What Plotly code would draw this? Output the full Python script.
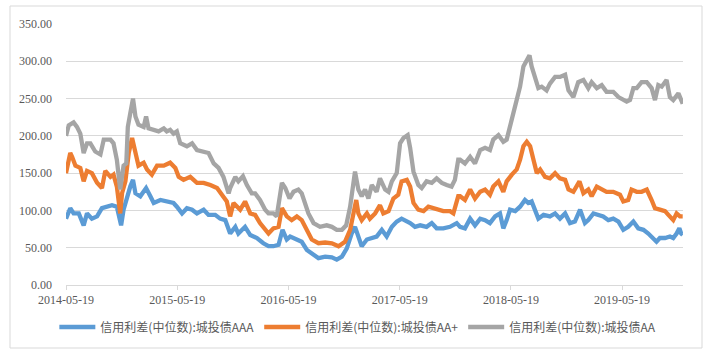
import pandas as pd
import plotly.graph_objects as go

START = "2014-05-19"

# AAA: days since 2014-05-19 and spread values
aaa_days = [0, 14, 25, 42, 58, 69, 85, 102, 118, 135, 151, 167, 181, 189, 200, 211, 220, 228, 244, 263,
            277, 288, 310, 331, 353, 364, 381, 397, 414, 430, 452, 468, 490, 506, 523, 539, 556, 566, 588,
            605, 627, 648, 665, 681, 698, 711, 725, 736, 758, 774, 791, 813, 829, 851, 873, 889, 906, 922,
            938, 949, 960, 971, 988, 1004, 1020, 1037, 1053, 1070, 1086, 1102, 1113, 1130, 1146, 1163, 1184,
            1201, 1217, 1239, 1261, 1283, 1294, 1310, 1327, 1343, 1360, 1376, 1392, 1409, 1425, 1436, 1447,
            1458, 1475, 1491, 1507, 1518, 1529, 1540, 1551, 1568, 1589, 1606, 1622, 1639, 1655, 1671, 1688,
            1704, 1715, 1732, 1748, 1764, 1781, 1797, 1814, 1830, 1846, 1863, 1879, 1896, 1912, 1929, 1939,
            1950, 1967, 1983, 1994, 2005, 2014, 2020, 2025]
aaa_vals = [89, 103, 96, 96, 80, 96, 89, 92, 103, 105, 107, 105, 80, 101, 119, 132, 141, 123, 119, 130,
            119, 110, 114, 112, 110, 105, 96, 103, 101, 96, 101, 94, 94, 89, 87, 69, 78, 69, 78,
            67, 63, 56, 52, 52, 54, 74, 61, 65, 61, 58, 47, 41, 36, 38, 37, 34, 38, 49,
            69, 78, 63, 52, 61, 63, 65, 74, 65, 78, 85, 89, 87, 83, 78, 80, 78,
            83, 76, 76, 78, 83, 78, 76, 89, 80, 89, 87, 83, 92, 96, 76, 87,
            101, 99, 105, 114, 110, 112, 101, 89, 94, 92, 96, 89, 96, 83, 85, 101,
            83, 87, 96, 94, 92, 87, 89, 85, 74, 78, 85, 76, 74, 69, 63, 58,
            63, 63, 65, 63, 69, 76, 69, 67]

# AA+
aap_days = [0, 14, 20, 31, 47, 58, 69, 85, 102, 118, 129, 146, 156, 167, 178, 184, 195, 206, 217, 228,
            238, 255, 266, 282, 299, 321, 342, 359, 370, 386, 408, 430, 452, 474, 496, 512, 528, 539, 550,
            572, 588, 605, 621, 637, 654, 665, 681, 698, 709, 725, 741, 758, 774, 791, 807, 829, 851, 873,
            895, 916, 933, 944, 953, 960, 971, 988, 998, 1015, 1031, 1042, 1059, 1075, 1091, 1102, 1119,
            1130, 1141, 1157, 1174, 1190, 1206, 1223, 1239, 1261, 1272, 1288, 1294, 1310, 1327, 1343, 1360,
            1376, 1392, 1403, 1420, 1436, 1447, 1464, 1480, 1491, 1502, 1513, 1524, 1535, 1546, 1557, 1573,
            1589, 1606, 1622, 1639, 1650, 1666, 1686, 1699, 1715, 1726, 1743, 1759, 1775, 1797, 1819, 1830,
            1846, 1857, 1874, 1890, 1907, 1923, 1934, 1950, 1967, 1978, 1994, 2005, 2016, 2025]
aap_vals = [150, 177, 172, 160, 157, 139, 153, 150, 137, 130, 153, 145, 148, 132, 96, 123, 139, 177, 197, 177,
            160, 164, 155, 148, 160, 160, 164, 157, 145, 141, 145, 137, 137, 134, 130, 121, 112, 92, 110,
            101, 112, 96, 94, 83, 74, 69, 76, 78, 103, 92, 87, 92, 87, 72, 61, 56, 57, 56,
            52, 58, 74, 96, 114, 96, 87, 96, 89, 96, 107, 96, 99, 116, 121, 139, 141,
            132, 110, 101, 99, 105, 103, 101, 99, 99, 96, 119, 119, 114, 128, 116, 125,
            128, 121, 132, 139, 125, 139, 148, 155, 168, 186, 192, 186, 168, 150, 155, 145,
            143, 150, 143, 141, 128, 125, 139, 123, 128, 119, 132, 128, 125, 125, 121, 112,
            114, 128, 125, 125, 128, 114, 103, 101, 99, 94, 87, 96, 92, 92]

# AA
aa_days = [0, 9, 25, 36, 47, 58, 69, 80, 96, 113, 124, 146, 156, 167, 178, 189, 198, 203, 211, 220,
           228, 238, 255, 263, 271, 288, 304, 321, 331, 342, 353, 364, 375, 397, 414, 430, 452, 468, 485,
           501, 517, 534, 539, 556, 566, 581, 594, 610, 621, 637, 654, 665, 681, 692, 709, 720, 734, 747,
           763, 774, 796, 813, 834, 856, 873, 889, 906, 920, 933, 944, 949, 960, 971, 982, 993, 1004, 1020,
           1031, 1048, 1059, 1070, 1086, 1097, 1108, 1122, 1130, 1141, 1157, 1168, 1184, 1201, 1217, 1234,
           1250, 1266, 1277, 1288, 1294, 1310, 1327, 1343, 1360, 1376, 1392, 1403, 1420, 1436, 1447, 1458,
           1469, 1480, 1491, 1502, 1513, 1522, 1529, 1540, 1551, 1562, 1578, 1589, 1606, 1622, 1639, 1650,
           1666, 1682, 1699, 1715, 1726, 1743, 1759, 1775, 1797, 1814, 1830, 1841, 1852, 1863, 1874, 1890,
           1907, 1923, 1934, 1945, 1956, 1972, 1983, 1994, 2011, 2018, 2025]
aa_vals = [200, 214, 218, 212, 203, 177, 190, 190, 179, 175, 195, 195, 190, 168, 128, 160, 163, 212, 230, 250,
           226, 215, 212, 226, 210, 208, 206, 210, 206, 208, 203, 206, 190, 186, 190, 181, 179, 177, 163,
           157, 145, 123, 130, 145, 139, 146, 134, 123, 123, 114, 101, 96, 96, 92, 137, 130, 116, 125,
           128, 123, 96, 83, 78, 80, 78, 74, 74, 80, 105, 132, 152, 128, 119, 128, 116, 134, 125,
           143, 128, 125, 139, 150, 190, 197, 201, 184, 152, 134, 130, 139, 137, 143, 137,
           134, 132, 141, 168, 168, 163, 172, 163, 181, 184, 181, 195, 201, 192, 195, 212,
           230, 248, 266, 293, 302, 308, 293, 277, 264, 266, 261, 270, 279, 279, 282, 261,
           252, 272, 275, 264, 272, 264, 268, 259, 259, 252, 248, 246, 248, 264, 264, 272,
           272, 264, 248, 268, 266, 275, 252, 248, 257, 248, 243]

names = ["信用利差(中位数):城投债AAA", "信用利差(中位数):城投债AA+", "信用利差(中位数):城投债AA"]
colors = ["#5B9BD5", "#ED7D31", "#A5A5A5"]
tick_dates = ["2014-05-19", "2015-05-19", "2016-05-19", "2017-05-19", "2018-05-19", "2019-05-19"]
y_ticks = [0, 50, 100, 150, 200, 250, 300, 350]


def to_dates(days):
    return pd.Timestamp(START) + pd.to_timedelta(days, unit="D")


fig = go.Figure()
for d, v, n, c in [(aaa_days, aaa_vals, names[0], colors[0]),
                   (aap_days, aap_vals, names[1], colors[1]),
                   (aa_days, aa_vals, names[2], colors[2])]:
    fig.add_trace(go.Scatter(x=to_dates(d), y=v, mode="lines", name=n,
                             line=dict(color=c, width=4.3)))

L, R, T, B = 66, 29, 24, 71
W, H = 712, 356
pw, ph = W - L - R, H - T - B

fig.update_layout(
    width=W, height=H,
    margin=dict(l=L, r=R, t=T, b=B, autoexpand=False),
    paper_bgcolor="white", plot_bgcolor="white",
    showlegend=True,
    legend=dict(orientation="h", x=0.473, xanchor="center", y=(285 - 327) / ph, yanchor="middle",
                font=dict(family="Noto Sans CJK SC", size=12, color="#595959"),
                itemwidth=36, bgcolor="rgba(0,0,0,0)"),
    xaxis=dict(type="date", range=["2014-05-19", "2019-12-05"],
               tickvals=tick_dates, ticktext=tick_dates,
               showgrid=False, showline=True, linecolor="#d9d9d9", linewidth=1,
               ticks="outside", ticklen=4, tickcolor="#d9d9d9",
               tickfont=dict(family="Liberation Serif", size=12, color="#595959")),
    yaxis=dict(range=[0, 350], tickvals=y_ticks, tickformat=".2f",
               showgrid=True, gridcolor="#d9d9d9", gridwidth=1, zeroline=False, showline=False,
               ticklabelstandoff=13,
               tickfont=dict(family="Liberation Serif", size=12, color="#595959")),
    shapes=[dict(type="rect", xref="paper", yref="paper",
                 x0=(10 - L) / pw, x1=(702 - L) / pw,
                 y0=(285 - 348) / ph, y1=(285 - 6) / ph,
                 line=dict(color="#d9d9d9", width=1), fillcolor="rgba(0,0,0,0)", layer="below")],
)

fig.write_html("out.html", config={"displayModeBar": False},
               post_script="document.body.style.margin='0px';document.body.style.overflow='hidden';")
